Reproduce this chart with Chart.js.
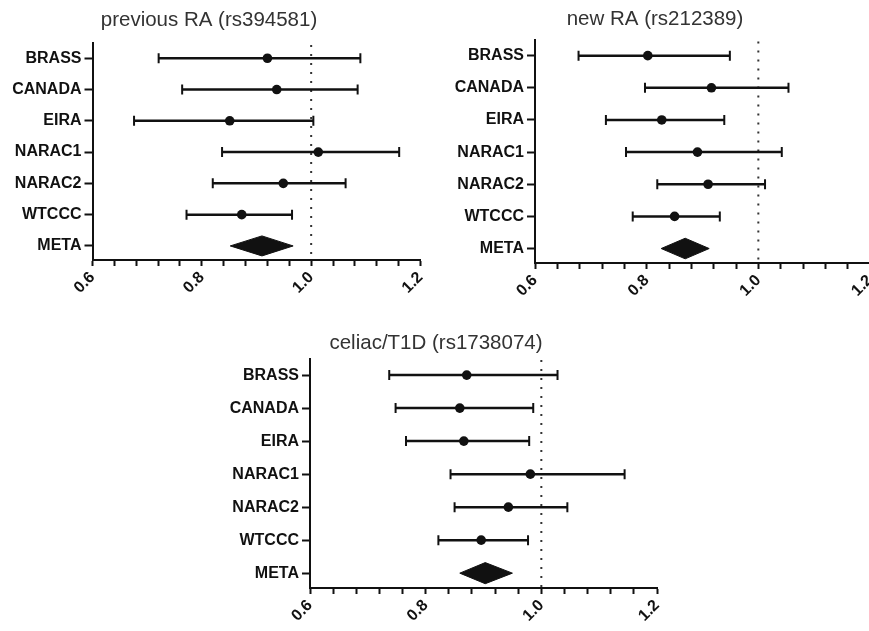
<!DOCTYPE html>
<html>
<head>
<meta charset="utf-8">
<script src="https://cdn.jsdelivr.net/npm/chart.js@4.4.1/dist/chart.umd.min.js"></script>
<style>
  html, body { margin: 0; padding: 0; background: #fff; }
  body { width: 869px; height: 631px; overflow: hidden; position: relative; }
  canvas { position: absolute; }
</style>
</head>
<body>
<canvas id="prev" width="446" height="310" style="left:-16px;top:0px"></canvas>
<canvas id="newra" width="461" height="313" style="left:419px;top:0px"></canvas>
<canvas id="celiac" width="470" height="313" style="left:196px;top:325px"></canvas>
<script>
// rows, top to bottom (last one is the meta-analysis diamond)
const studies = ["BRASS", "CANADA", "EIRA", "NARAC1", "NARAC2", "WTCCC", "META"];
const xTicks = [0.6, 0.8, 1.0, 1.2];
const nullOR = 1.0;

// previous RA (rs394581)
const prevOR   = [0.920, 0.937, 0.851, 1.013, 0.949, 0.873, 0.910];
const prevLow  = [0.721, 0.764, 0.676, 0.837, 0.820, 0.772, 0.852];
const prevHigh = [1.090, 1.085, 1.004, 1.161, 1.063, 0.965, 0.967];

// new RA (rs212389)
const newOR   = [0.802, 0.916, 0.827, 0.891, 0.910, 0.850, 0.869];
const newLow  = [0.678, 0.797, 0.727, 0.763, 0.819, 0.775, 0.826];
const newHigh = [0.949, 1.054, 0.939, 1.042, 1.012, 0.931, 0.912];

// celiac/T1D (rs1738074)
const celOR   = [0.871, 0.859, 0.866, 0.981, 0.943, 0.896, 0.903];
const celLow  = [0.737, 0.748, 0.766, 0.843, 0.850, 0.822, 0.859];
const celHigh = [1.028, 0.986, 0.979, 1.144, 1.045, 0.977, 0.950];

Chart.defaults.font.family = "'Liberation Sans', Arial, sans-serif";
Chart.defaults.color = "#111";

const ink = "#111";
const diamondHalf = 0.32; // in row units

function forestPlot(id, title, or, low, high, box) {
  const datasets = [];
  const meta = studies.length - 1;

  // point estimates
  datasets.push({
    data: or.slice(0, meta).map((v, i) => ({ x: v, y: i })),
    pointStyle: "circle",
    pointRadius: 4.8,
    backgroundColor: ink,
    borderColor: ink,
    borderWidth: 0
  });

  // confidence intervals with caps
  for (let i = 0; i < meta; i++) {
    datasets.push({
      data: [{ x: low[i], y: i }, { x: high[i], y: i }],
      showLine: true,
      borderColor: ink,
      borderWidth: 2.5,
      pointStyle: "line",
      rotation: 90,
      pointRadius: 5,
      pointBorderWidth: 2,
      pointBorderColor: ink
    });
  }

  // meta diamond
  datasets.push({
    data: [
      { x: low[meta], y: meta },
      { x: or[meta], y: meta - diamondHalf },
      { x: high[meta], y: meta },
      { x: or[meta], y: meta + diamondHalf },
      { x: low[meta], y: meta }
    ],
    showLine: true,
    fill: "shape",
    tension: 0,
    borderColor: ink,
    borderWidth: 1,
    backgroundColor: ink,
    pointRadius: 0
  });

  // dotted line at OR = 1
  datasets.push({
    data: [{ x: nullOR, y: -1 }, { x: nullOR, y: studies.length }],
    showLine: true,
    borderColor: "#333",
    borderWidth: 2,
    borderDash: [2, 7],
    pointRadius: 0
  });

  return new Chart(document.getElementById(id), {
    type: "scatter",
    data: { datasets },
    options: {
      responsive: false,
      animation: false,
      layout: { padding: box.padding },
      plugins: {
        legend: { display: false },
        tooltip: { enabled: false },
        title: {
          display: true,
          text: title,
          color: "#333",
          font: { size: 20.5, weight: "normal" },
          padding: box.titlePad
        }
      },
      scales: {
        x: {
          type: "linear",
          min: xTicks[0],
          max: xTicks[xTicks.length - 1],
          afterBuildTicks: (s) => {
            const t = [];
            for (let i = 0; i <= 15; i++) t.push({ value: +(0.6 + i * 0.04).toFixed(2) });
            s.ticks = t;
          },
          afterFit: (s) => { s.height = 50; s.paddingLeft = 0; s.paddingRight = 0; },
          ticks: {
            autoSkip: false,
            minRotation: 45,
            maxRotation: 45,
            padding: 2,
            color: ink,
            font: { size: 16, weight: "bold" },
            callback: (v) => {
              const hit = xTicks.find(t => Math.abs(t - v) < 1e-6);
              return hit === undefined ? "" : hit.toFixed(1);
            }
          },
          grid: { drawOnChartArea: false, tickLength: 6, tickWidth: 2, tickColor: ink },
          border: { color: ink, width: 2 }
        },
        y: {
          type: "linear",
          reverse: true,
          min: -0.5,
          max: 6.45,
          afterBuildTicks: (s) => { s.ticks = studies.map((_, i) => ({ value: i })); },
          afterFit: (s) => { s.width = 95; },
          ticks: {
            padding: 3,
            color: ink,
            font: { size: 16, weight: "bold" },
            callback: (v) => studies[v]
          },
          grid: { drawOnChartArea: false, tickLength: 8, tickWidth: 2, tickColor: ink },
          border: { color: ink, width: 2 }
        }
      }
    }
  });
}

forestPlot("prev", "previous RA (rs394581)", prevOR, prevLow, prevHigh, {
  padding: { left: 13.5, right: 9.5, top: 0, bottom: 0 },
  titlePad: { top: 8, bottom: 10 }
});
forestPlot("newra", "new RA (rs212389)", newOR, newLow, newHigh, {
  padding: { left: 21, right: 10, top: 0, bottom: 0 },
  titlePad: { top: 7, bottom: 8 }
});
forestPlot("celiac", "celiac/T1D (rs1738074)", celOR, celLow, celHigh, {
  padding: { left: 19, right: 9, top: 0, bottom: 0 },
  titlePad: { top: 6, bottom: 3 }
});
</script>
</body>
</html>
